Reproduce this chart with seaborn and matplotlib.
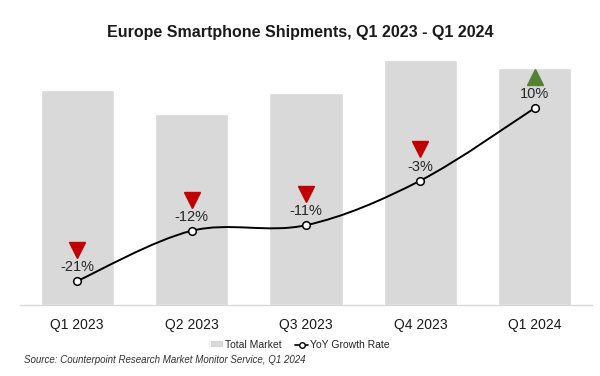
import matplotlib
matplotlib.use("Agg")
import matplotlib.pyplot as plt
import matplotlib.transforms as mtransforms
from matplotlib.path import Path
from matplotlib.patches import PathPatch, Patch
from matplotlib.lines import Line2D
import numpy as np
import seaborn as sns

quarters = ["Q1 2023", "Q2 2023", "Q3 2023", "Q4 2023", "Q1 2024"]
shipments = [32.5, 28.8, 32.0, 37.0, 35.8]  # total market, millions
growth = [-21, -12, -11, -3, 10]  # YoY %

sns.set_style("white")
plt.rcParams["font.family"] = ["Liberation Sans", "DejaVu Sans"]

fig = plt.figure(figsize=(6, 3.76), dpi=100)
ax = fig.add_axes([20 / 600, 71 / 376, 572 / 600, 255 / 376])

sns.barplot(x=quarters, y=shipments, color="#D9D9D9", saturation=1, width=0.64, ax=ax)
ax.set_xlim(-0.5, 4.5)
ax.set_ylim(0, 38.5)
ax.set_yticks([])
ax.set_ylabel("")
for s in ["top", "left", "right"]:
    ax.spines[s].set_visible(False)
ax.spines["bottom"].set_color("#D9D9D9")
ax.spines["bottom"].set_linewidth(1)
ax.tick_params(axis="x", length=0, pad=9, labelsize=10, colors="#1a1a1a")

ax2 = ax.twinx()
ax2.set_ylim(-25.3, 20.4)
ax2.set_yticks([])
for s in ax2.spines.values():
    s.set_visible(False)

# smooth growth line (Catmull-Rom as cubic Bezier)
xs = np.arange(len(growth), dtype=float)
ys = np.array(growth, dtype=float)
px = np.concatenate([[xs[0]], xs, [xs[-1]]])
py = np.concatenate([[ys[0]], ys, [ys[-1]]])
verts = [(xs[0], ys[0])]
codes = [Path.MOVETO]
for i in range(1, len(px) - 2):
    c1 = (px[i] + (px[i + 1] - px[i - 1]) / 6, py[i] + (py[i + 1] - py[i - 1]) / 6)
    c2 = (px[i + 1] - (px[i + 2] - px[i]) / 6, py[i + 1] - (py[i + 2] - py[i]) / 6)
    verts += [c1, c2, (px[i + 1], py[i + 1])]
    codes += [Path.CURVE4] * 3
ax2.add_patch(PathPatch(Path(verts, codes), fill=False, color="black", lw=1.4, zorder=3))
sns.scatterplot(x=xs, y=ys, ax=ax2, color="white", edgecolor="black", linewidth=1.1,
                s=30, zorder=4, legend=False)

lab_tr = mtransforms.offset_copy(ax2.transData, fig=fig, x=0, y=10, units="points")
tri_tr = mtransforms.offset_copy(ax2.transData, fig=fig, x=0, y=22.5, units="points")
for x, g in zip(xs, growth):
    ax2.text(x, g, f"{g}%", transform=lab_tr, ha="center", va="center",
             fontsize=10.5, color="#262626")
    up = g > 0
    ax2.plot([x], [g], marker="^" if up else "v", markersize=11,
             color="#548235" if up else "#C00000", transform=tri_tr, clip_on=False)

handles = [Patch(facecolor="#D9D9D9", edgecolor="none"),
           Line2D([0], [0], color="black", lw=1.2, marker="o", markersize=4,
                  markerfacecolor="white", markeredgecolor="black")]
fig.legend(handles, ["Total Market", "YoY Growth Rate"], loc="center",
           bbox_to_anchor=(0.5, 1 - 345 / 376), ncol=2, frameon=False, fontsize=7.5,
           handlelength=1.2, handleheight=0.5, handletextpad=0.2, columnspacing=1.3)

fig.text(0.5, 1 - 32 / 376, "Europe Smartphone Shipments, Q1 2023 - Q1 2024",
         ha="center", va="center", fontsize=11.5, fontweight="bold", color="#1a1a1a")
fig.text(24 / 600, 1 - 360 / 376, "Source: Counterpoint Research Market Monitor Service, Q1 2024",
         ha="left", va="center", fontsize=7, style="italic", color="#333333")

fig.savefig("out.png", dpi=100)
